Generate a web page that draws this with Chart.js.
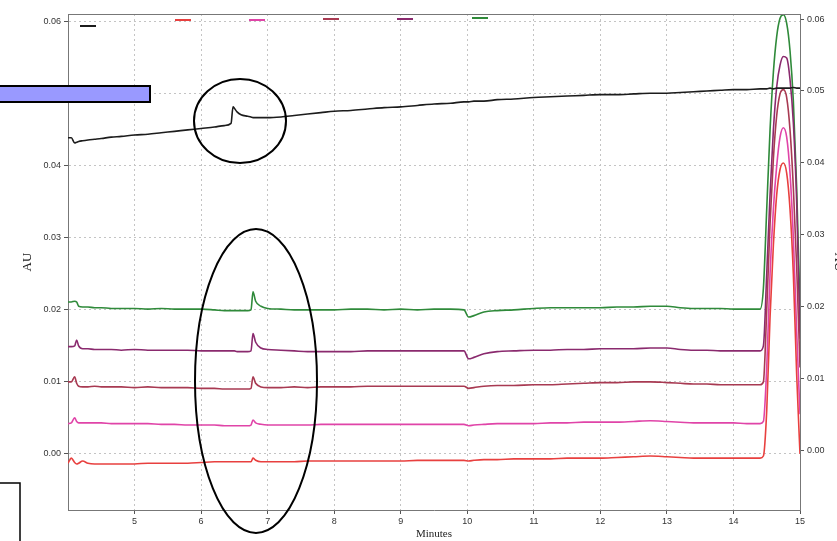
<!DOCTYPE html>
<html>
<head>
<meta charset="utf-8">
<script src="https://cdn.jsdelivr.net/npm/chart.js@4.4.1/dist/chart.umd.min.js"></script>
<style>
  html, body { margin: 0; padding: 0; background: #fff; }
  #wrap { width: 837px; height: 541px; }
</style>
</head>
<body>
<div id="wrap"><canvas id="chart" width="837" height="541"></canvas></div>
<script>
// Retention time (minutes), shared by all traces
const minutes = [
  4.00, 4.05, 4.10, 4.13, 4.16, 4.22, 4.30, 4.40, 4.50, 4.65,
  4.80, 5.00, 5.20, 5.40, 5.60, 5.80, 6.00, 6.20, 6.35, 6.45,
  6.48, 6.50, 6.54, 6.60, 6.70, 6.75, 6.78, 6.82, 6.90, 7.00,
  7.20, 7.40, 7.60, 7.80, 8.00, 8.25, 8.50, 8.75, 9.00, 9.25,
  9.50, 9.75, 9.95, 10.02, 10.10, 10.25, 10.45, 10.70, 11.00, 11.25,
  11.50, 11.75, 12.00, 12.25, 12.50, 12.75, 13.00, 13.20, 13.40, 13.60,
  13.80, 14.00, 14.20, 14.40, 14.45, 14.50, 14.55, 14.60, 14.65, 14.70,
  14.75, 14.80, 14.85, 14.90, 14.95, 15.00
];

// Absorbance (AU) per trace
const blackAU = [
  .0439, .0439, .0432, .0433, .0434, .0435, .0436, .0437, .0438, .0440,
  .0441, .0443, .0444, .0446, .0448, .0450, .0452, .0454, .0456, .0459,
  .0482, .0480, .0475, .0471, .0469, .0468, .0467, .0467, .0467, .0467,
  .0468, .0470, .0472, .0474, .0476, .0477, .0479, .0481, .0482, .0484,
  .0486, .0487, .0489, .0489, .0490, .0490, .0492, .0493, .0495, .0496,
  .0497, .0498, .0499, .0499, .0500, .0501, .0501, .0502, .0503, .0504,
  .0505, .0506, .0506, .0507, .0507, .0507, .0508, .0507, .0508, .0508,
  .0508, .0508, .0508, .0509, .0508, .0508
];
const redAU = [
  -.0013, -.0006, -.0012, -.0014, -.0013, -.0010, -.0013, -.0014, -.0014, -.0014,
  -.0014, -.0014, -.0013, -.0013, -.0013, -.0013, -.0012, -.0011, -.0011, -.0011,
  -.0011, -.0011, -.0011, -.0011, -.0011, -.0011, -.0006, -.0009, -.0011, -.0011,
  -.0011, -.0011, -.0010, -.0010, -.0010, -.0010, -.0010, -.0010, -.0010, -.0009,
  -.0009, -.0009, -.0009, -.0010, -.0009, -.0008, -.0008, -.0007, -.0007, -.0007,
  -.0006, -.0006, -.0006, -.0005, -.0004, -.0003, -.0004, -.0005, -.0006, -.0006,
  -.0006, -.0006, -.0006, -.0006, -.0003, .0060, .0190, .0290, .0360, .0395,
  .0404, .0390, .0340, .0250, .0110, .0000
];
const pinkAU = [
  .0042, .0043, .0050, .0045, .0043, .0043, .0043, .0043, .0043, .0042,
  .0042, .0042, .0042, .0041, .0041, .0040, .0040, .0040, .0039, .0039,
  .0039, .0039, .0039, .0039, .0039, .0040, .0047, .0043, .0041, .0040,
  .0040, .0040, .0040, .0041, .0041, .0041, .0041, .0041, .0041, .0041,
  .0041, .0041, .0041, .0039, .0040, .0041, .0042, .0042, .0042, .0043,
  .0043, .0044, .0044, .0044, .0045, .0046, .0045, .0044, .0043, .0043,
  .0043, .0043, .0042, .0042, .0045, .0120, .0250, .0340, .0400, .0440,
  .0453, .0440, .0390, .0300, .0170, .0055
];
const maroonAU = [
  .0100, .0100, .0107, .0098, .0094, .0093, .0093, .0094, .0093, .0093,
  .0093, .0092, .0093, .0092, .0092, .0092, .0091, .0091, .0090, .0090,
  .0090, .0090, .0090, .0090, .0090, .0091, .0107, .0098, .0093, .0092,
  .0092, .0093, .0092, .0093, .0093, .0093, .0094, .0094, .0094, .0094,
  .0094, .0094, .0094, .0091, .0092, .0094, .0095, .0095, .0096, .0096,
  .0097, .0098, .0099, .0099, .0100, .0100, .0099, .0098, .0097, .0097,
  .0096, .0096, .0096, .0096, .0100, .0200, .0320, .0410, .0470, .0500,
  .0506, .0495, .0450, .0370, .0260, .0120
];
const purpleAU = [
  .0149, .0149, .0150, .0158, .0150, .0146, .0146, .0145, .0145, .0145,
  .0144, .0145, .0144, .0144, .0144, .0144, .0143, .0143, .0143, .0143,
  .0143, .0143, .0142, .0142, .0142, .0143, .0167, .0155, .0147, .0145,
  .0144, .0143, .0142, .0142, .0142, .0142, .0143, .0143, .0143, .0143,
  .0143, .0143, .0143, .0132, .0134, .0139, .0142, .0143, .0144, .0144,
  .0145, .0145, .0146, .0146, .0146, .0147, .0147, .0145, .0144, .0144,
  .0143, .0143, .0143, .0143, .0150, .0250, .0360, .0450, .0510, .0540,
  .0552, .0550, .0520, .0460, .0350, .0160
];
const greenAU = [
  .0211, .0211, .0212, .0211, .0205, .0204, .0204, .0203, .0203, .0202,
  .0202, .0202, .0201, .0202, .0201, .0201, .0201, .0200, .0199, .0199,
  .0199, .0199, .0199, .0199, .0199, .0200, .0225, .0212, .0205, .0202,
  .0201, .0200, .0200, .0200, .0200, .0201, .0201, .0200, .0201, .0200,
  .0201, .0201, .0200, .0190, .0192, .0197, .0199, .0200, .0202, .0203,
  .0203, .0203, .0203, .0204, .0204, .0205, .0205, .0203, .0202, .0202,
  .0202, .0201, .0201, .0201, .0230, .0340, .0450, .0530, .0580, .0605,
  .0610, .0598, .0560, .0490, .0370, .0200
];

const traces = [
  { values: blackAU, color: "#1c1c1c" },
  { values: redAU, color: "#e8403f" },
  { values: pinkAU, color: "#e044a8" },
  { values: maroonAU, color: "#a83a52" },
  { values: purpleAU, color: "#8a2a6e" },
  { values: greenAU, color: "#2f8a3a" }
];

// short coloured legend strokes along the top of the plot
const legendMarks = {
  id: "legendMarks",
  afterDraw(chart) {
    const ctx = chart.ctx;
    const xs = [80, 175, 249, 323, 397, 472];
    const ys = [26, 20, 20, 19, 19, 18];
    ctx.save();
    ctx.lineWidth = 2;
    chart.data.datasets.forEach((ds, i) => {
      ctx.strokeStyle = ds.borderColor;
      ctx.beginPath();
      ctx.moveTo(xs[i], ys[i]);
      ctx.lineTo(xs[i] + 16, ys[i]);
      ctx.stroke();
    });
    ctx.restore();
  }
};

// plot frame plus the annotation shapes pasted over the chart
const overlays = {
  id: "overlays",
  afterDraw(chart) {
    const ctx = chart.ctx;
    const a = chart.chartArea;
    ctx.save();
    ctx.strokeStyle = "#777";
    ctx.lineWidth = 1;
    ctx.beginPath();
    ctx.moveTo(a.left, a.top + 0.5);
    ctx.lineTo(a.right, a.top + 0.5);
    ctx.stroke();

    ctx.strokeStyle = "#000";
    ctx.lineWidth = 2;
    ctx.beginPath();
    ctx.ellipse(240, 121, 46, 42, 0, 0, Math.PI * 2);
    ctx.stroke();
    ctx.beginPath();
    ctx.ellipse(256, 381, 61, 152, 0, 0, Math.PI * 2);
    ctx.stroke();

    ctx.fillStyle = "#9999ff";
    ctx.fillRect(0, 86, 150, 16);
    ctx.strokeRect(-1, 86, 151, 16);

    ctx.fillStyle = "#fff";
    ctx.fillRect(0, 483, 20, 60);
    ctx.lineWidth = 1.5;
    ctx.strokeRect(-1, 483, 21, 60);
    ctx.restore();
  }
};

const tickFont = { family: "'Liberation Sans', Arial, sans-serif", size: 9 };
const titleFont = { family: "'Liberation Serif', 'Times New Roman', serif", size: 13 };

new Chart(document.getElementById("chart"), {
  type: "line",
  data: {
    datasets: traces.map(t => ({
      data: minutes.map((m, i) => ({ x: m, y: t.values[i] })),
      borderColor: t.color,
      borderWidth: 1.6,
      pointRadius: 0,
      cubicInterpolationMode: "monotone",
      fill: false,
      yAxisID: "y"
    }))
  },
  options: {
    responsive: false,
    animation: false,
    devicePixelRatio: 1,
    layout: { padding: { top: 14, left: 0, right: 0, bottom: 0 } },
    plugins: { legend: { display: false }, tooltip: { enabled: false } },
    scales: {
      x: {
        type: "linear",
        min: 4,
        max: 15,
        afterFit(scale) { scale.height = 31; },
        afterBuildTicks(scale) { scale.ticks = scale.ticks.filter(t => t.value >= 5); },
        ticks: { stepSize: 1, includeBounds: false, font: tickFont, color: "#333", padding: 2, maxRotation: 0 },
        grid: { color: "#c4c4c4", tickColor: "#555", tickLength: 4 },
        border: { color: "#777", dash: [2, 3] },
        title: { display: true, text: "Minutes", font: { family: titleFont.family, size: 11 }, color: "#222", padding: { top: 0, bottom: 0 } }
      },
      y: {
        position: "left",
        min: -0.0078,
        max: 0.0611,
        afterFit(scale) { scale.width = 68; },
        ticks: { stepSize: 0.01, includeBounds: false, font: tickFont, color: "#333", padding: 3, callback: v => v.toFixed(2) },
        grid: { color: "#c4c4c4", tickColor: "#555", tickLength: 4 },
        border: { color: "#777", dash: [2, 3] },
        title: { display: true, text: "AU", font: titleFont, color: "#222", padding: { top: 20, bottom: 0 } }
      },
      y2: {
        position: "right",
        min: -0.00835,
        max: 0.0607,
        afterFit(scale) { scale.width = 37; },
        ticks: { stepSize: 0.01, includeBounds: false, font: tickFont, color: "#333", padding: 3, callback: v => v.toFixed(2) },
        grid: { drawOnChartArea: false, tickColor: "#555", tickLength: 4 },
        border: { color: "#777" },
        title: { display: true, text: "AU", font: titleFont, color: "#222", padding: { top: -9, bottom: 0 } }
      }
    }
  },
  plugins: [legendMarks, overlays]
});
</script>
</body>
</html>
